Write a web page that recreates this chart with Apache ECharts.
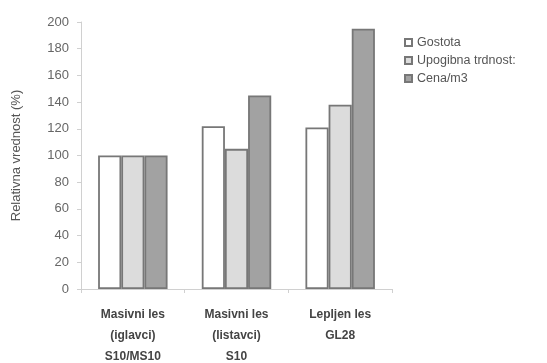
<!DOCTYPE html>
<html><head><meta charset="utf-8">
<script src="https://cdn.jsdelivr.net/npm/echarts@6/dist/echarts.min.js"></script>
<style>html,body{margin:0;padding:0;background:#fff}#c{width:547px;height:363px}</style>
</head><body><div id="c"></div>
<script>
const categories = ['Masivni les\n(iglavci)\nS10/MS10', 'Masivni les\n(listavci)\nS10', 'Lepljen les\nGL28'];
const gostota = [100, 122, 121];
const upogibna = [100, 105, 138];
const cena = [100, 145, 195];
const seriesNames = ['Gostota', 'Upogibna trdnost:', 'Cena/m3'];
const yTicks = [0, 20, 40, 60, 80, 100, 120, 140, 160, 180, 200];

const chart = echarts.init(document.getElementById('c'), null, {renderer: 'canvas'});
const border = '#777777';
function bar(name, data, color) {
  return {name, type: 'bar', data, barGap: '0%', barCategoryGap: '33%',
    itemStyle: {color, borderColor: border, borderWidth: 1.8}};
}
chart.setOption({
  animation: false,
  textStyle: {fontFamily: 'Liberation Sans, Arial, sans-serif'},
  grid: {left: 81, right: 155, top: 22, bottom: 74, containLabel: false, outerBoundsMode: 'none'},
  legend: {
    orient: 'vertical', left: 399, top: 31, itemGap: 5, itemWidth: 7, itemHeight: 7,
    icon: 'rect',
    textStyle: {fontSize: 12.5, color: '#555'},
    data: seriesNames
  },
  xAxis: {
    type: 'category', data: categories,
    axisLine: {lineStyle: {color: '#d0d0d0'}},
    axisTick: {show: true, lineStyle: {color: '#d0d0d0'}, length: 4},
    axisLabel: {fontSize: 12, fontWeight: 'bold', color: '#444', lineHeight: 21, margin: 15}
  },
  yAxis: {
    type: 'value', min: 0, max: 200, interval: 20,
    name: 'Relativna vrednost (%)', nameLocation: 'middle', nameGap: 58, nameRotate: 90,
    nameTextStyle: {fontSize: 13, color: '#555'},
    splitLine: {show: false},
    axisLine: {show: true, lineStyle: {color: '#d0d0d0'}},
    axisTick: {show: true, lineStyle: {color: '#d0d0d0'}, length: 4},
    axisLabel: {fontSize: 13, color: '#666', margin: 12,
      formatter: v => yTicks.includes(v) ? String(v) : ''}
  },
  series: [
    bar(seriesNames[0], gostota, '#ffffff'),
    bar(seriesNames[1], upogibna, '#dcdcdc'),
    bar(seriesNames[2], cena, '#a2a2a2')
  ]
});
</script></body></html>
